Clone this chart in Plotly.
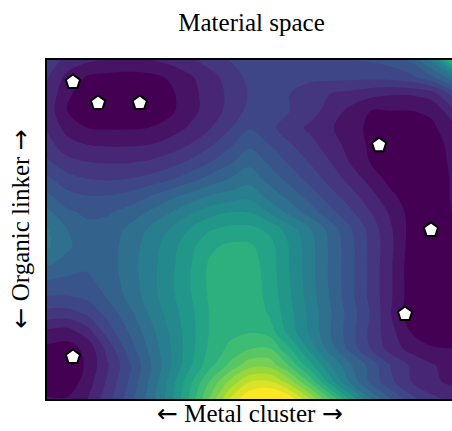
import plotly.graph_objects as go

# grid coordinates (normalised design space)
x_grid = [0.0, 0.05, 0.1, 0.15, 0.2, 0.25, 0.3, 0.35, 0.4, 0.45, 0.5,
          0.55, 0.6, 0.65, 0.7, 0.75, 0.8, 0.85, 0.9, 0.95, 1.0]
y_grid = [0.0, 0.05, 0.1, 0.15, 0.2, 0.25, 0.3, 0.35, 0.4, 0.45, 0.5,
          0.55, 0.6, 0.65, 0.7, 0.75, 0.8, 0.85, 0.9, 0.95, 1.0]

# surface level (0 = darkest band, 20 = brightest),
# one row per y value, bottom (y=0) -> top (y=1)
z_y000 = [1.1, 1.1, 2.0, 3.6, 5.4, 7.3, 9.4, 12.0, 15.0, 18.0, 20.0, 20.5, 19.6, 17.0, 14.0, 10.8, 8.0, 6.0, 4.3, 3.3, 2.8]
z_y005 = [0.4, 0.3, 1.5, 3.2, 5.0, 7.0, 9.2, 11.6, 14.0, 16.2, 18.0, 18.2, 16.5, 13.8, 10.5, 7.8, 5.7, 4.2, 3.0, 2.2, 1.8]
z_y010 = [0.2, 0.1, 1.2, 2.9, 4.7, 6.7, 8.7, 10.7, 12.6, 14.2, 15.6, 15.6, 13.8, 11.3, 9.0, 7.1, 5.6, 3.9, 2.8, 2.1, 1.6]
z_y015 = [0.8, 0.6, 1.3, 3.4, 5.4, 7.1, 8.8, 10.5, 12.2, 13.2, 13.9, 14.0, 12.0, 9.6, 7.4, 5.6, 3.9, 2.5, 1.6, 1.1, 1.0]
z_y020 = [1.8, 1.6, 2.6, 4.5, 6.0, 7.5, 9.0, 10.5, 12.0, 12.7, 12.9, 12.5, 10.5, 8.8, 7.0, 5.4, 3.7, 2.3, 0.9, 0.3, 0.3]
z_y025 = [3.6, 3.5, 4.1, 5.3, 6.6, 8.0, 9.3, 10.6, 12.0, 12.6, 12.8, 11.9, 10.3, 8.7, 7.1, 5.5, 3.9, 2.0, 0.3, 0.0, 0.1]
z_y030 = [4.9, 4.9, 5.2, 6.1, 7.2, 8.4, 9.6, 10.8, 12.1, 12.6, 12.6, 11.7, 10.1, 8.5, 6.9, 5.3, 3.7, 2.1, 0.4, 0.0, 0.1]
z_y035 = [6.0, 5.8, 5.8, 6.4, 7.4, 8.5, 9.7, 10.9, 12.2, 12.6, 12.6, 11.6, 10.0, 8.4, 6.8, 5.3, 3.7, 2.1, 0.4, 0.0, 0.2]
z_y040 = [7.2, 6.6, 6.2, 6.5, 7.5, 8.5, 9.6, 10.8, 12.1, 12.5, 12.5, 11.5, 9.9, 8.4, 6.8, 5.3, 3.7, 2.1, 0.4, 0.0, 0.3]
z_y045 = [8.2, 7.2, 6.4, 6.5, 7.4, 8.4, 9.5, 10.6, 11.8, 12.2, 12.2, 11.4, 9.9, 8.4, 6.8, 5.3, 3.7, 2.2, 0.5, 0.1, 0.6]
z_y050 = [8.1, 7.0, 6.3, 6.4, 7.2, 8.1, 9.0, 10.0, 10.9, 11.3, 11.3, 10.8, 9.5, 8.1, 6.6, 5.1, 3.6, 2.1, 0.6, 0.3, 1.0]
z_y055 = [7.3, 6.2, 5.8, 5.9, 6.4, 7.1, 7.9, 8.8, 9.6, 10.0, 10.0, 8.9, 7.7, 6.5, 5.3, 4.2, 3.0, 1.8, 0.6, 0.3, 1.0]
z_y060 = [6.2, 5.3, 5.0, 5.0, 5.3, 5.9, 6.6, 7.3, 8.0, 8.4, 8.7, 7.6, 6.6, 5.5, 4.4, 3.4, 2.3, 1.2, 0.4, 0.3, 1.1]
z_y065 = [5.2, 4.4, 4.0, 3.9, 4.0, 4.3, 4.8, 5.5, 6.3, 7.0, 7.6, 6.6, 5.6, 4.6, 3.6, 2.6, 1.6, 0.6, 0.2, 0.3, 1.1]
z_y070 = [4.2, 3.3, 3.0, 2.9, 2.9, 3.1, 3.5, 4.1, 4.9, 5.8, 6.7, 5.8, 4.8, 3.9, 3.0, 1.9, 0.9, 0.3, 0.2, 0.4, 1.2]
z_y075 = [3.4, 2.4, 2.0, 1.9, 1.9, 2.0, 2.4, 3.0, 3.8, 4.8, 5.8, 5.0, 4.1, 3.3, 2.5, 1.6, 0.8, 0.2, 0.2, 0.5, 1.3]
z_y080 = [2.9, 1.6, 1.0, 0.9, 0.9, 1.0, 1.4, 2.1, 2.9, 3.9, 4.9, 4.3, 3.4, 2.8, 2.1, 1.5, 0.7, 0.3, 0.3, 0.8, 1.6]
z_y085 = [2.6, 1.0, 0.3, 0.0, 0.0, 0.2, 0.7, 1.6, 2.4, 3.3, 4.3, 4.2, 4.0, 3.4, 2.6, 1.7, 1.0, 1.0, 1.0, 1.2, 2.6]
z_y090 = [2.8, 1.2, 0.4, 0.1, 0.1, 0.2, 0.7, 1.6, 2.4, 3.2, 4.1, 4.1, 4.0, 3.4, 3.0, 2.7, 2.3, 2.1, 2.1, 2.5, 4.3]
z_y095 = [3.1, 1.7, 0.9, 0.7, 0.6, 0.7, 1.1, 1.8, 2.6, 3.4, 4.3, 4.3, 4.3, 4.3, 4.3, 4.3, 4.3, 4.4, 4.8, 5.8, 7.5]
z_y100 = [3.6, 2.7, 2.2, 2.0, 1.9, 2.0, 2.3, 2.8, 3.4, 4.0, 4.8, 5.0, 5.0, 5.0, 5.0, 5.0, 5.1, 5.4, 6.2, 8.3, 13.0]

z_rows = [z_y000, z_y005, z_y010, z_y015, z_y020, z_y025, z_y030, z_y035,
          z_y040, z_y045, z_y050, z_y055, z_y060, z_y065, z_y070, z_y075,
          z_y080, z_y085, z_y090, z_y095, z_y100]

# sampled materials (pentagon markers)
sample_x = [0.064, 0.126, 0.229, 0.820, 0.948, 0.884, 0.064]
sample_y = [0.935, 0.873, 0.873, 0.749, 0.499, 0.251, 0.124]

title_text = "Material space"
x_words = "Metal cluster"
y_words = "Organic linker"

serif = "Liberation Serif, DejaVu Serif, serif"
arrow_font = "DejaVu Sans"
left_arrow = '<span style="font-family:%s">\u2190</span>' % arrow_font
right_arrow = '<span style="font-family:%s">\u2192</span>' % arrow_font
x_label = left_arrow + " " + x_words + " " + right_arrow
y_label = left_arrow + " " + y_words + " " + right_arrow

fig = go.Figure()
fig.add_trace(go.Contour(
    x=x_grid, y=y_grid, z=z_rows,
    colorscale="Viridis",
    autocontour=False,
    contours=dict(start=1, end=19, size=1, coloring="fill"),
    line=dict(width=0, smoothing=1.0),
    showscale=False, hoverinfo="skip",
))
fig.add_trace(go.Scatter(
    x=sample_x, y=sample_y, mode="markers",
    marker=dict(symbol="pentagon", size=15, color="white",
                line=dict(color="black", width=2)),
    showlegend=False, hoverinfo="skip",
))

fig.update_layout(
    width=452, height=431,
    margin=dict(l=47, r=0, t=60, b=32),
    paper_bgcolor="white", plot_bgcolor="white",
    showlegend=False,
    title=dict(text=title_text, x=0.505, xanchor="center", y=1 - 22 / 431,
               yanchor="middle", xref="paper",
               font=dict(family=serif, size=25, color="black")),
    xaxis=dict(range=[0, 1], showticklabels=False, ticks="", showgrid=False,
               zeroline=False, showline=True, linecolor="black", linewidth=2,
               mirror=True),
    yaxis=dict(range=[0, 1], showticklabels=False, ticks="", showgrid=False,
               zeroline=False, showline=True, linecolor="black", linewidth=2),
    annotations=[
        dict(text=x_label, xref="paper", yref="paper", x=0.5, y=-14 / 339,
             xanchor="center", yanchor="middle", showarrow=False,
             font=dict(family=serif, size=25, color="black")),
        dict(text=y_label, xref="paper", yref="paper", x=-27 / 405, y=0.5,
             xanchor="center", yanchor="middle", showarrow=False, textangle=-90,
             font=dict(family=serif, size=25, color="black")),
    ],
)

fig.write_html("out.html")
